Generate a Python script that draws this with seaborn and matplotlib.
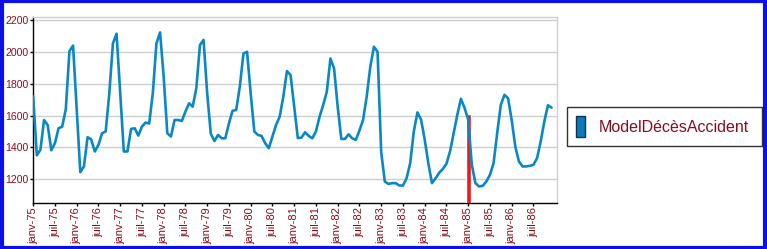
import matplotlib
matplotlib.use("Agg")
import matplotlib.pyplot as plt
import matplotlib.patches as mpatches
import seaborn as sns
import pandas as pd
import numpy as np

# ---- data ----
years = list(range(1975, 1987))
month_index = list(range(144))
values = [
    1720, 1350, 1385, 1572, 1540, 1382, 1426, 1520, 1530, 1640, 2005, 2040,  # 1975
    1640, 1244, 1280, 1464, 1450, 1374, 1415, 1489, 1500, 1740, 2054, 2115,  # 1976
    1740, 1374, 1374, 1516, 1520, 1474, 1530, 1556, 1550, 1740, 2054, 2123,  # 1977
    1844, 1489, 1468, 1572, 1572, 1566, 1625, 1677, 1656, 1771, 2043, 2076,  # 1978
    1740, 1485, 1440, 1478, 1457, 1457, 1551, 1630, 1635, 1782, 1990, 2001,  # 1979
    1740, 1500, 1478, 1472, 1426, 1395, 1468, 1541, 1593, 1719, 1880, 1855,  # 1980
    1660, 1459, 1461, 1495, 1472, 1457, 1500, 1593, 1666, 1750, 1959, 1897,  # 1981
    1656, 1453, 1453, 1482, 1457, 1447, 1506, 1572, 1719, 1907, 2033, 2001,  # 1982
    1370, 1185, 1170, 1175, 1175, 1160, 1160, 1205, 1300, 1500, 1620, 1575,  # 1983
    1450, 1300, 1175, 1205, 1240, 1264, 1297, 1375, 1490, 1605, 1705, 1648,  # 1984
    1575, 1290, 1175, 1154, 1158, 1185, 1227, 1300, 1490, 1667, 1730, 1709,  # 1985
    1572, 1405, 1311, 1280, 1280, 1284, 1290, 1332, 1437, 1562, 1665, 1650,  # 1986
]
tick_positions = list(range(0, 144, 6))
tick_labels = []
for y in years:
    tick_labels += [f"janv-{y % 100:02d}", f"juil-{y % 100:02d}"]
marker_month = [120]      # janv-85
marker_value = [1610]
series_name = "ModelDécèsAccident"
y_ticks = [1200, 1400, 1600, 1800, 2000, 2200]

df = pd.DataFrame({"month": month_index, "value": values})

# ---- style ----
sns.set_theme(style="white")
plt.rcParams["font.family"] = ["Liberation Sans", "DejaVu Sans"]
text_color = "#8a0c1c"
line_color = "#0a88c6"

fig = plt.figure(figsize=(7.67, 2.49), dpi=100)
fig.patch.set_facecolor("white")
ax = fig.add_axes([33 / 767, 1 - 203 / 249, (557 - 33) / 767, (203 - 17) / 249])

ax.bar(marker_month, marker_value, width=1.4, color="#ee1a1a", zorder=3)
sns.lineplot(data=df, x="month", y="value", ax=ax, color=line_color,
             linewidth=1.9, zorder=4, legend=False)

ax.set_xlim(-0.05, 144.5)
ax.set_ylim(1050, 2220)
ax.set_yticks(y_ticks)
ax.set_yticklabels([str(v) for v in y_ticks], color=text_color, fontsize=7.6)
ax.set_xticks(tick_positions)
ax.set_xticklabels(tick_labels, rotation=90, color=text_color, fontsize=8)
ax.set_xlabel("")
ax.set_ylabel("")
ax.tick_params(axis="both", which="major", direction="out", length=2.5, width=1,
               color="black", pad=0.5, left=True, bottom=True)
ax.yaxis.grid(True, color="#cfcfcf", linewidth=1)
ax.xaxis.grid(False)
ax.set_axisbelow(True)
for s in ["left", "bottom"]:
    ax.spines[s].set_color("black")
    ax.spines[s].set_linewidth(1)
for s in ["top", "right"]:
    ax.spines[s].set_color("#d0d0d0")
    ax.spines[s].set_linewidth(1)

handle = mpatches.Patch(facecolor="#0a7ab8", edgecolor="#10305a", linewidth=1)
leg = fig.legend([handle], [series_name], loc="center",
                 bbox_to_anchor=(567 / 767, 1 - 146 / 249, 195 / 767, 39 / 249),
                 mode="expand", fancybox=False, frameon=True, fontsize=11.5,
                 handlelength=0.55, handleheight=1.6, handletextpad=0.9,
                 borderpad=0.55, borderaxespad=0)
leg.get_frame().set_edgecolor("black")
leg.get_frame().set_linewidth(1)
for t in leg.get_texts():
    t.set_color(text_color)

# outer blue border
fig.add_artist(mpatches.Rectangle((0.002, 0.005), 0.996, 0.99, transform=fig.transFigure,
                                  fill=False, edgecolor="#0a10e6", linewidth=3))

fig.savefig("out.png", dpi=100, facecolor="white")
